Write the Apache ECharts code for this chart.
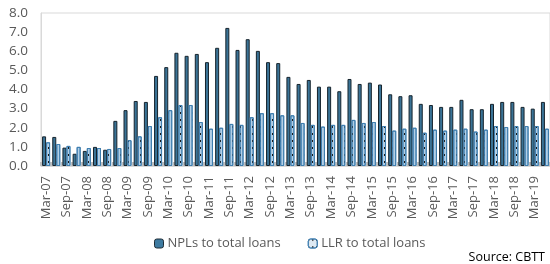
<!DOCTYPE html>
<html><head><meta charset="utf-8">
<script src="https://cdn.jsdelivr.net/npm/echarts@6/dist/echarts.min.js"></script>
<style>html,body{margin:0;padding:0;background:#fff}#c{width:550px;height:264px}</style>
</head><body><div id="c"></div>
<script>
const categories = (function(){
  const m=['Mar','Jun','Sep','Dec'], out=[];
  for(let y=7;y<=19;y++){for(const q of m){out.push(q+'-'+String(y).padStart(2,'0')); if(y===19&&q==='Jun')return out;}}
  return out;
})();
const nplValues = [1.55,1.52,0.96,0.64,0.79,1.00,0.85,2.36,2.92,3.40,3.35,4.71,5.17,5.92,5.76,5.86,5.43,6.18,7.22,6.07,6.63,6.02,5.43,5.38,4.66,4.29,4.50,4.15,4.15,3.91,4.55,4.29,4.36,4.26,3.75,3.65,3.70,3.25,3.19,3.09,3.09,3.46,2.97,2.97,3.25,3.35,3.35,3.09,3.00,3.35];
const llrValues = [1.24,1.15,1.05,1.00,0.94,0.94,0.89,0.94,1.35,1.55,2.09,2.55,2.92,3.19,3.19,2.30,1.95,2.00,2.20,2.15,2.55,2.76,2.76,2.65,2.65,2.25,2.15,2.06,2.15,2.15,2.41,2.25,2.30,2.09,1.85,1.95,2.00,1.74,1.90,1.85,1.90,1.95,1.80,1.90,2.09,2.04,2.09,2.09,2.09,1.95];
const yTicks = [0,1,2,3,4,5,6,7,8];
const seriesNames = ['NPLs to total loans','LLR to total loans'];

const chart = echarts.init(document.getElementById('c'), null, {renderer:'canvas'});
const font = '"Open Sans", "Noto Sans", sans-serif';
chart.setOption({
  animation:false,
  grid:{left:41,top:13,right:-2,bottom:98,show:true,borderColor:'#d9d9d9',borderWidth:1},
  xAxis:{type:'category',data:categories,
    axisLine:{show:true,lineStyle:{color:'#d9d9d9'}},
    axisTick:{show:true,inside:true,length:4,interval:0,alignWithLabel:false,lineStyle:{color:'#bfbfbf',width:2}},
    axisLabel:{interval:1,rotate:90,color:'#595959',fontSize:13,fontFamily:font,margin:10}},
  yAxis:{type:'value',min:yTicks[0],max:yTicks[yTicks.length-1],interval:1,
    axisLine:{show:true,lineStyle:{color:'#d9d9d9'}},axisTick:{show:false},splitLine:{show:false},
    axisLabel:{formatter:v=>v.toFixed(1),color:'#595959',fontSize:13.5,fontFamily:font,margin:13}},
  legend:{bottom:9,left:149,itemWidth:9,itemHeight:9,itemGap:27,
    textStyle:{color:'#595959',fontSize:13,fontFamily:font,padding:[0,0,0,-1]},
    data:[{name:seriesNames[0],itemStyle:{color:'#3d7aa0',borderColor:'#1d2b35',borderWidth:1}},
          {name:seriesNames[1],itemStyle:{color:'#dde9f3',borderColor:'#3f7fb0',borderWidth:1}}]},
  graphic:[{type:'text',right:5,bottom:0,style:{text:'Source: CBTT',fill:'#000',font:'12.5px '+font}}],
  series:[
    {name:seriesNames[0],type:'bar',data:nplValues,barWidth:4,barGap:'0%',
      itemStyle:{color:'#3a7396',borderColor:'#16232c',borderWidth:1}},
    {name:seriesNames[1],type:'bar',data:llrValues,barWidth:4,
      itemStyle:{color:'#b3cfe6',borderColor:'#3f7fb0',borderWidth:1,
        decal:{symbol:'rect',symbolSize:1,color:'#1a1a1a',dashArrayX:[[1,3]],dashArrayY:[2,5],rotation:0}}}
  ]
});
</script></body></html>
